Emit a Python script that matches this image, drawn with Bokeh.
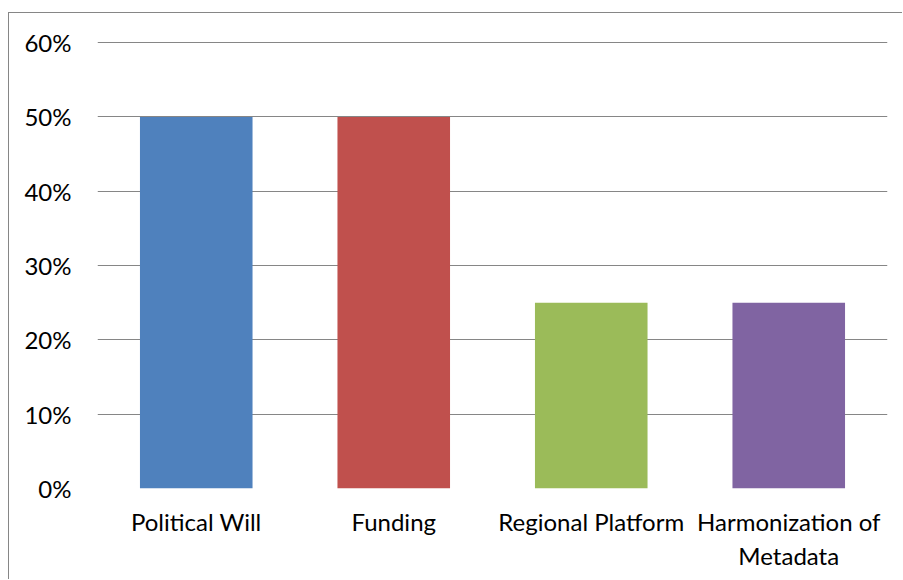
from bokeh.plotting import figure
from bokeh.models import FixedTicker, NumeralTickFormatter, ColumnDataSource, FactorRange, Range1d
from bokeh.embed import file_html
from bokeh.resources import INLINE

categories = ["Political Will", "Funding", "Regional Platform", "Harmonization of\nMetadata"]
values = [0.50, 0.50, 0.25, 0.25]
colors = ["#4F81BD", "#C0504D", "#9BBB59", "#8064A2"]
y_ticks = [0.0, 0.1, 0.2, 0.3, 0.4, 0.5, 0.6]

FONT = "Lato"

src = ColumnDataSource(dict(cat=categories, val=values, color=colors))

p = figure(x_range=FactorRange(*categories), y_range=Range1d(0, 0.6015),
           width=894, height=567, output_backend="svg", toolbar_location=None,
           min_border_left=88, min_border_right=16, min_border_top=28, min_border_bottom=92)
p.styles = {"margin-left": "8px", "margin-top": "12px",
            "border-top": "1px solid #868686", "border-left": "1px solid #868686"}
p.x_range.range_padding = 0
p.vbar(x="cat", top="val", width=0.57, color="color", source=src, line_color=None)

p.outline_line_color = None
p.xgrid.grid_line_color = None
p.ygrid.grid_line_color = "#868686"
p.ygrid.grid_line_width = 1.2
p.ygrid.ticker = FixedTicker(ticks=y_ticks)

p.yaxis.ticker = FixedTicker(ticks=y_ticks)
p.yaxis.formatter = NumeralTickFormatter(format="0%")
for ax in (p.xaxis[0], p.yaxis[0]):
    ax.axis_line_color = None
    ax.major_tick_line_color = None
    ax.minor_tick_line_color = None
    ax.major_label_text_font = FONT
    ax.major_label_text_font_size = "24px"
    ax.major_label_text_color = "#000000"
p.yaxis.major_label_standoff = 20
p.xaxis.major_label_standoff = 12

open("out.html", "w").write(file_html(p, INLINE))
